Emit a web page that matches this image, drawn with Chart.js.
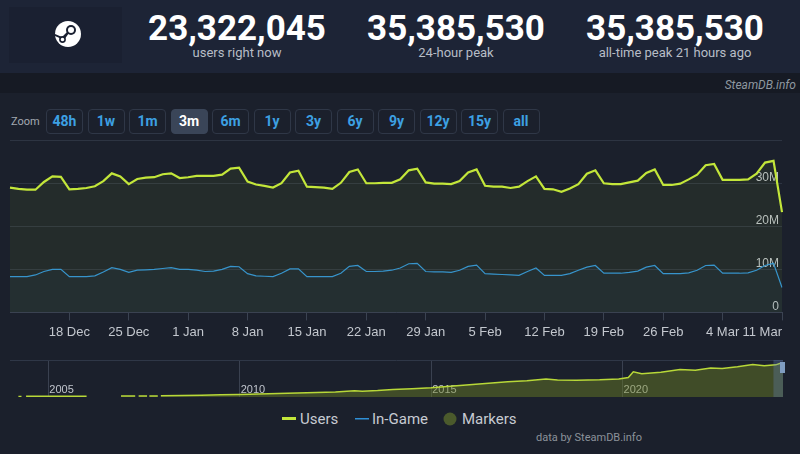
<!DOCTYPE html>
<html lang="en">
<head>
<meta charset="UTF-8" />
<script src="https://cdn.jsdelivr.net/npm/chart.js@4.4.1/dist/chart.umd.min.js"></script>
<style>
  body { margin: 0; width: 800px; height: 454px; overflow: hidden; position: relative;
         background: #1b202c; font-family: Roboto, "Noto Sans", sans-serif; }
  #header { position: absolute; left: 0; top: 0; width: 800px; height: 73px; background: #1d2436; }
  #logo { position: absolute; left: 9px; top: 7px; width: 113px; height: 56px; background: #1a2031; }
  .stat { position: absolute; top: 11px; width: 220px; margin-left: -110px; text-align: center; }
  .stat .num { color: #fff; font-weight: 700; font-size: 35px; line-height: 36px; }
  .stat .lbl { color: #b7bdc6; font-size: 13px; line-height: 16px; margin-top: -2px; }
  #band { position: absolute; left: 0; top: 73px; width: 800px; height: 20px; background: #161a24; }
  #band span { position: absolute; right: 4px; top: 5px; color: #8f98a0; font-size: 12px; font-style: italic; }
  #zoom { position: absolute; left: 11px; top: 109px; display: flex; align-items: center; }
  #zoom .z { color: #a3a9b1; font-size: 11px; width: 35px; }
  #zoom .btns { display: flex; gap: 4.5px; }
  #zoom .b { width: 35px; height: 23px; border: 1px solid #2f3747; border-radius: 4px; color: #3da0e3;
             font-weight: 700; font-size: 14px; line-height: 23px; text-align: center; }
  #zoom .b.on { background: #3a4558; color: #fff; border-color: #3a4558; }
  canvas { position: absolute; left: 0; }
  #main { top: 136px; }
  #nav { top: 355px; }
  .leg { position: absolute; top: 410px; color: #c7cbd2; font-size: 15px; line-height: 18px; }
  .sw { position: absolute; }
  #src { position: absolute; left: 536px; top: 431px; color: #8b929a; font-size: 11px; }
</style>
</head>
<body>
<div id="header">
  <div id="logo">
    <svg width="113" height="56" viewBox="0 0 113 56">
      <circle cx="59" cy="27" r="13" fill="#fff"/>
      <circle cx="62" cy="23" r="5" fill="#1a2031"/>
      <circle cx="62" cy="23" r="3" fill="#fff"/>
      <path d="M46 29 L55 33 L60 26 L58 25 L53 30 L46 27 Z" fill="#1a2031"/>
      <circle cx="53.5" cy="32.5" r="2.6" fill="#fff" stroke="#1a2031" stroke-width="1.6"/>
    </svg>
  </div>
  <div class="stat" style="left:237px"><div class="num">23,322,045</div><div class="lbl">users right now</div></div>
  <div class="stat" style="left:456px"><div class="num">35,385,530</div><div class="lbl">24-hour peak</div></div>
  <div class="stat" style="left:675px"><div class="num">35,385,530</div><div class="lbl">all-time peak 21 hours ago</div></div>
</div>
<div id="band"><span>SteamDB.info</span></div>
<div id="zoom">
  <div class="z">Zoom</div>
  <div class="btns">
    <div class="b">48h</div><div class="b">1w</div><div class="b">1m</div><div class="b on">3m</div>
    <div class="b">6m</div><div class="b">1y</div><div class="b">3y</div><div class="b">6y</div>
    <div class="b">9y</div><div class="b">12y</div><div class="b">15y</div><div class="b">all</div>
  </div>
</div>
<canvas id="main" width="800" height="209"></canvas>
<canvas id="nav" width="800" height="45"></canvas>

<svg class="sw" style="left:282px;top:417px" width="14" height="4"><rect width="14" height="3" fill="#c3e63a"/></svg>
<div class="leg" style="left:300px">Users</div>
<svg class="sw" style="left:355px;top:418px" width="14" height="3"><rect width="14" height="1.5" fill="#2f8fd6"/></svg>
<div class="leg" style="left:372px">In-Game</div>
<svg class="sw" style="left:443px;top:412px" width="14" height="14"><circle cx="7" cy="7" r="6.5" fill="#4b5a2c"/></svg>
<div class="leg" style="left:462px">Markers</div>
<div id="src">data by SteamDB.info</div>

<script>
  // daily points, 11 Dec -> 11 Mar
  const monthSpans = [["Dec", 11, 31], ["Jan", 1, 31], ["Feb", 1, 29], ["Mar", 1, 11]];
  const days = [];
  monthSpans.forEach(([m, a, b]) => { for (let d = a; d <= b; d++) days.push(d + " " + m); });

  const tickLabels = ["18 Dec", "25 Dec", "1 Jan", "8 Jan", "15 Jan", "22 Jan", "29 Jan",
                      "5 Feb", "12 Feb", "19 Feb", "26 Feb", "4 Mar", "11 Mar"];

  // millions
  const users = [
    29.0, 28.7, 28.5, 28.5, 30.3, 31.6, 31.5, 28.6, 28.7, 28.9,
    29.3, 30.5, 32.3, 31.6, 29.8, 31.0, 31.3, 31.4, 32.1, 32.3,
    31.2, 31.4, 31.7, 31.7, 31.7, 32.0, 33.4, 33.6, 30.4, 29.7,
    29.4, 29.0, 30.0, 32.5, 32.9, 29.2, 29.1, 29.0, 28.7, 30.1,
    32.6, 33.2, 30.0, 30.0, 30.1, 30.1, 30.9, 33.0, 33.4, 30.2,
    29.9, 29.9, 29.8, 30.5, 32.5, 33.2, 29.4, 29.2, 29.2, 28.9,
    29.2, 30.5, 31.6, 28.7, 28.6, 28.0, 28.8, 29.8, 32.2, 33.0,
    30.0, 29.8, 29.8, 30.2, 30.6, 32.4, 33.2, 29.6, 29.6, 29.9,
    30.9, 32.0, 34.2, 34.5, 30.8, 30.8, 30.8, 30.9, 32.2, 34.8,
    35.2, 23.3
  ];
  const inGame = [
    8.3, 8.3, 8.3, 8.7, 9.5, 10.0, 10.0, 8.3, 8.3, 8.3,
    8.5, 9.4, 10.4, 10.0, 9.3, 9.8, 9.9, 10.0, 10.2, 10.4,
    10.0, 10.0, 9.8, 9.5, 9.6, 10.0, 10.7, 10.6, 9.0, 8.5,
    8.4, 8.3, 9.1, 10.1, 10.1, 8.3, 8.3, 8.3, 8.3, 9.1,
    10.7, 10.9, 9.5, 9.5, 9.6, 9.8, 10.3, 11.3, 11.4, 9.5,
    9.4, 9.4, 9.3, 9.8, 10.7, 11.0, 9.0, 8.9, 8.8, 8.7,
    8.6, 9.5, 10.3, 8.6, 8.6, 8.6, 9.0, 9.8, 10.5, 10.9,
    9.1, 9.1, 9.1, 9.3, 9.6, 10.5, 10.9, 9.0, 9.0, 9.0,
    9.2, 9.8, 10.9, 11.0, 9.1, 9.1, 9.1, 9.2, 9.8, 10.9,
    11.4, 5.8
  ];

  // navigator: whole history, users in millions (null = gap)
  const navYears = [2004.22, 2004.30, 2004.36, 2004.42, 2005.0, 2005.5, 2006.0, 2006.1,
    2006.9, 2007.27, 2007.31, 2007.36, 2007.58, 2007.61, 2007.64, 2007.86, 2007.9,
    2007.94, 2008.5, 2009.0, 2009.5, 2010.0, 2010.5, 2011.0, 2011.5, 2012.0, 2012.5,
    2013.0, 2013.2, 2013.6, 2014.0, 2014.5, 2015.0, 2015.5, 2016.0, 2016.5, 2017.0,
    2017.5, 2018.0, 2018.3, 2018.8, 2019.4, 2019.9, 2020.15, 2020.28, 2020.5, 2021.0,
    2021.5, 2021.9, 2022.3, 2022.6, 2023.0, 2023.4, 2023.7, 2024.0, 2024.12, 2024.19];
  const navUsers = [0.5, 0.5, null, 0.7, 0.7, 0.7, 0.7, null,
    0.9, 0.9, null, 1.0, 1.0, null, 1.1, 1.1, null,
    1.2, 1.5, 1.9, 2.3, 2.6, 3.0, 3.6, 4.0, 4.6, 5.2,
    6.4, 6.0, 6.6, 7.6, 8.4, 9.4, 11.0, 12.6, 14.2, 15.6,
    16.8, 18.6, 17.4, 17.2, 17.6, 18.4, 20.0, 25.8, 23.8, 25.4,
    28.2, 27.4, 29.8, 29.2, 31.0, 33.4, 32.2, 33.0, 34.6, 33.5];
  const navTicks = [2005, 2010, 2015, 2020];

  const lineCol = "#3b4352";

  new Chart(document.getElementById("main"), {
    type: "line",
    data: {
      labels: days,
      datasets: [
        { label: "Users", data: users, borderColor: "#c3e63a", borderWidth: 2.2,
          backgroundColor: "rgba(190,230,40,0.06)", fill: "origin", pointRadius: 0, tension: 0 },
        { label: "In-Game", data: inGame, borderColor: "#2f8fd6", borderWidth: 1.2,
          backgroundColor: "rgba(40,140,220,0.04)", fill: "origin", pointRadius: 0, tension: 0 }
      ]
    },
    options: {
      responsive: false,
      animation: false,
      events: [],
      layout: { padding: { left: 10, right: 18, top: 3, bottom: 1 } },
      plugins: { legend: { display: false }, tooltip: { enabled: false } },
      scales: {
        x: {
          offset: false,
          afterBuildTicks: (s) => {
            s.ticks = s.ticks.filter((t) => t.value === 0 || tickLabels.includes(days[t.value]));
          },
          grid: { drawOnChartArea: false, tickLength: 8,
                  tickColor: (ctx) => (ctx.index === 0 ? "rgba(0,0,0,0)" : lineCol) },
          border: { color: lineCol },
          ticks: {
            autoSkip: false, maxRotation: 0, align: "inner", padding: 4,
            color: "#c3c7ce", font: { size: 13 },
            callback(v) {
              const l = this.getLabelForValue(v);
              return tickLabels.includes(l) ? l : "";
            }
          }
        },
        y: {
          position: "right", min: 0, max: 40,
          grid: { color: "#2d3442", drawTicks: false },
          border: { display: false },
          ticks: {
            stepSize: 10, mirror: true, padding: -3, labelOffset: -6,
            color: "#b9bec6", font: { size: 12 },
            callback: (v) => (v === 40 ? "" : v === 0 ? "0" : v + "M")
          }
        }
      }
    }
  });

  const navDecor = {
    id: "navDecor",
    afterDraw(chart) {
      const { ctx, chartArea: a, scales } = chart;
      ctx.save();
      ctx.strokeStyle = "#2f3747";
      ctx.lineWidth = 1;
      ctx.beginPath();
      ctx.moveTo(a.left, a.top + 0.5);
      ctx.lineTo(a.right, a.top + 0.5);
      ctx.stroke();
      // selected range (3m)
      const x0 = scales.x.getPixelForValue(2023.94);
      ctx.fillStyle = "rgba(102,133,194,0.3)";
      ctx.fillRect(x0, a.top, a.right - x0, a.bottom - a.top);
      ctx.fillStyle = "#7f9cc0";
      ctx.fillRect(a.right - 3, a.top + 2, 5, 11);
      ctx.restore();
    }
  };

  new Chart(document.getElementById("nav"), {
    type: "line",
    data: {
      datasets: [{
        label: "Users",
        data: navYears.map((x, i) => ({ x, y: navUsers[i] })),
        borderColor: "#b8d838", borderWidth: 1.5,
        backgroundColor: "rgba(110,130,35,0.45)", fill: "origin",
        pointRadius: 0, tension: 0, spanGaps: false
      }]
    },
    options: {
      responsive: false,
      animation: false,
      events: [],
      layout: { padding: { left: 10, right: 17, top: 5, bottom: 3 } },
      plugins: { legend: { display: false }, tooltip: { enabled: false } },
      scales: {
        x: {
          type: "linear", min: 2004.0, max: 2024.19,
          afterBuildTicks: (s) => { s.ticks = navTicks.map((v) => ({ value: v })); },
          grid: { color: "#3a4150", drawTicks: false },
          border: { display: false },
          ticks: { mirror: true, align: "start", padding: 0, labelOffset: 1,
                   color: "#c0c4cc", font: { size: 11 }, callback: (v) => String(v) }
        },
        y: { display: false, min: 0, max: 38 }
      }
    },
    plugins: [navDecor]
  });
</script>
</body>
</html>
